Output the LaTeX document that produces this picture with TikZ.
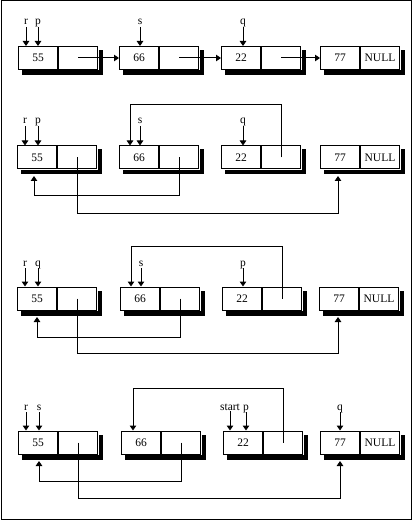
\documentclass[tikz,border=0pt]{standalone}
\usepackage{fontspec}
\setmainfont{Liberation Serif}
\usetikzlibrary{arrows.meta}
\newcommand{\mkshadow}[1]{%
  \fill[black] ([shift={(0.5,4)}]#1b.north east) rectangle ([shift={(5,5)}]#1b.south east);
  \fill[black] ([shift={(4,0.5)}]#1a.south west) rectangle ([shift={(5,5)}]#1b.south east);
}
\newcommand{\mkbox}[4]{% name, x, y, value
  \node[cell,anchor=west] (#1a) at (#2,#3) {#4};
  \node[cell,anchor=west] (#1b) at (#1a.east) {};
  \mkshadow{#1}
}
\newcommand{\mkboxnull}[3]{%
  \node[cell,anchor=west] (#1a) at (#2,#3) {77};
  \node[cell,anchor=west] (#1b) at (#1a.east) {NULL};
  \mkshadow{#1}
}
\begin{document}
\begin{tikzpicture}[x=1pt,y=-1pt,line width=1pt,
  cell/.style={draw,fill=white,minimum width=39pt,minimum height=23pt,inner sep=0pt,
    font=\fontsize{11.5}{12}\selectfont},
  lbl/.style={inner sep=0pt,anchor=base,font=\fontsize{11.5}{12}\selectfont},
  tip/.style={-{Triangle[width=6.5pt,length=5pt]}},
  link/.style={tip}]
\useasboundingbox (0,0) rectangle (413,521);
\draw (1,0.5) rectangle (411.5,519.5);
% ---------- Row 1 ----------
\mkbox{Aa}{18}{58}{55}
\mkbox{Ab}{119}{58}{66}
\mkbox{Ac}{221}{58}{22}
\mkboxnull{Ad}{320}{58}
\node[lbl] (A-r) at (26,25) {r};
\node[lbl] (A-p) at (38,25) {p};
\node[lbl] (A-s) at (140,25) {s};
\node[lbl] (A-q) at (243,25) {q};
\foreach \n/\b in {A-r/Aaa,A-p/Aaa,A-s/Aba,A-q/Aca}
  \draw[tip] (\n.base) ++(0,2) -- (\n |- \b.north);
\draw[tip] (Aab.center) -- (Aba.west);
\draw[tip] (Abb.center) -- (Aca.west);
\draw[tip] (Acb.center) -- (Ada.west);
% ---------- Row 2 ----------
\mkbox{Ba}{17}{157.5}{55}
\mkbox{Bb}{119}{157.5}{66}
\mkbox{Bc}{221}{157.5}{22}
\mkboxnull{Bd}{320}{157.5}
\node[lbl] (B-r) at (25,124) {r};
\node[lbl] (B-p) at (38,124) {p};
\node[lbl] (B-s) at (140,124) {s};
\node[lbl] (B-q) at (243,124) {q};
\foreach \n/\b in {B-r/Baa,B-p/Baa,B-s/Bba,B-q/Bca}
  \draw[tip] (\n.base) ++(0,2) -- (\n |- \b.north);
\coordinate (B-top) at (130,105);
\draw[link] (Bcb.center) |- (B-top) -- (B-top |- Bba.north);
\coordinate (B-lo1) at (34,196);
\draw[link] (Bbb.center) |- (B-lo1) -- ([yshift=-6.5pt]B-lo1 |- Baa.south);
\coordinate (B-lo2) at (338,213);
\draw[link] (Bab.center) |- (B-lo2) -- ([yshift=-6.5pt]B-lo2 |- Bda.south);
% ---------- Row 3 ----------
\mkbox{Ca}{17}{298.5}{55}
\mkbox{Cb}{120}{298.5}{66}
\mkbox{Cc}{222}{298.5}{22}
\mkboxnull{Cd}{319}{298.5}
\node[lbl] (C-r) at (25,266) {r};
\node[lbl] (C-q) at (38,266) {q};
\node[lbl] (C-s) at (141,266) {s};
\node[lbl] (C-p) at (243,266) {p};
\foreach \n/\b in {C-r/Caa,C-q/Caa,C-s/Cba,C-p/Cca}
  \draw[tip] (\n.base) ++(0,2) -- (\n |- \b.north);
\coordinate (C-top) at (131,246);
\draw[link] (Ccb.center) |- (C-top) -- (C-top |- Cba.north);
\coordinate (C-lo1) at (37,337);
\draw[link] (Cbb.center) |- (C-lo1) -- ([yshift=-6.5pt]C-lo1 |- Caa.south);
\coordinate (C-lo2) at (338,353);
\draw[link] (Cab.center) |- (C-lo2) -- ([yshift=-6.5pt]C-lo2 |- Cda.south);
% ---------- Row 4 ----------
\mkbox{Da}{18}{442.5}{55}
\mkbox{Db}{121}{442.5}{66}
\mkbox{Dc}{223}{442.5}{22}
\mkboxnull{Dd}{320}{442.5}
\node[lbl] (D-r) at (26,410) {r};
\node[lbl] (D-s) at (39,410) {s};
\node[lbl] (D-start) at (230,410) {start};
\node[lbl] (D-p) at (246,410) {p};
\node[lbl] (D-q) at (340,410) {q};
\foreach \n/\b in {D-r/Daa,D-s/Daa,D-p/Dca,D-q/Dda}
  \draw[tip] (\n.base) ++(0,2) -- (\n |- \b.north);
\draw[tip] (D-start.base) ++(0,1) -- (D-start |- Dca.north);
\coordinate (D-top) at (133,388);
\draw[link] (Dcb.center) |- (D-top) -- (D-top |- Dba.north);
\coordinate (D-lo1) at (39,481);
\draw[link] (Dbb.center) |- (D-lo1) -- ([yshift=-6.5pt]D-lo1 |- Daa.south);
\coordinate (D-lo2) at (340,498);
\draw[link] (Dab.center) |- (D-lo2) -- ([yshift=-6.5pt]D-lo2 |- Dda.south);
\end{tikzpicture}
\end{document}
